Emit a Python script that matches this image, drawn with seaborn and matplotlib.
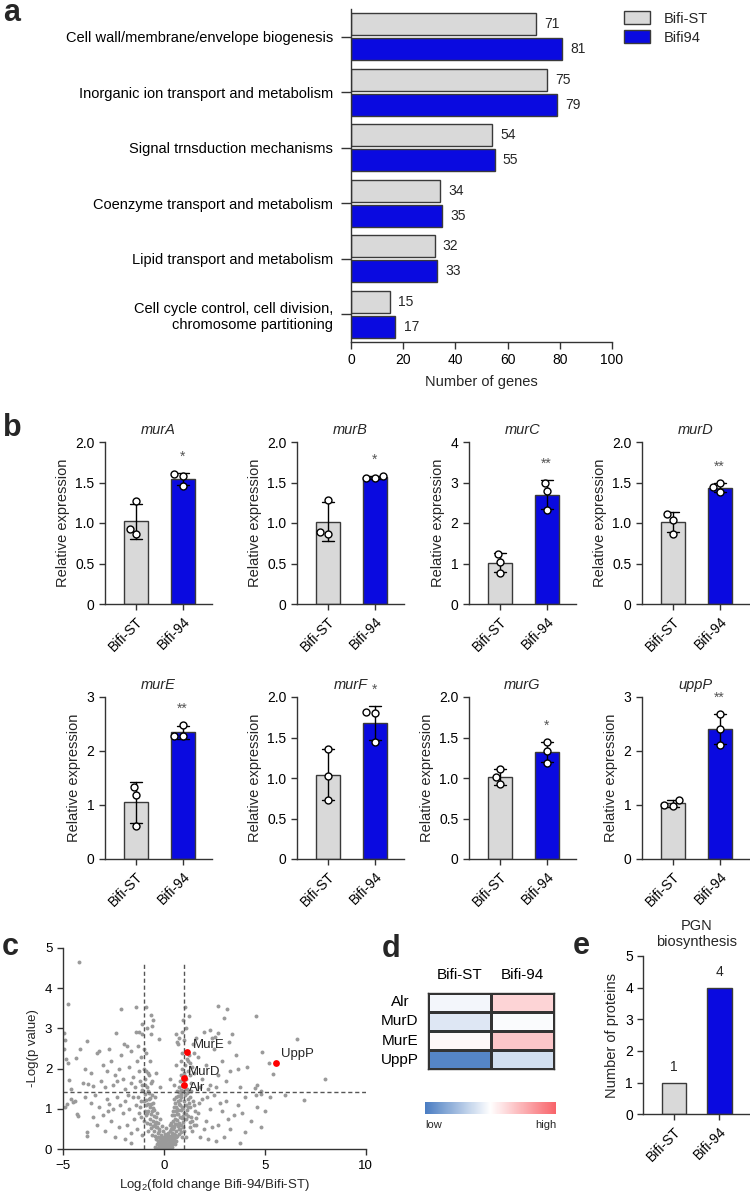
import numpy as np
import pandas as pd
import seaborn as sns
import matplotlib.pyplot as plt
from matplotlib.colors import LinearSegmentedColormap

# ---------------- data ----------------
# a: COG categories (number of genes)
cog_categories = ['Cell wall/membrane/envelope biogenesis',
                  'Inorganic ion transport and metabolism',
                  'Signal trnsduction mechanisms',
                  'Coenzyme transport and metabolism',
                  'Lipid transport and metabolism',
                  'Cell cycle control, cell division,\nchromosome partitioning']
cog_bifi_st = [71, 75, 54, 34, 32, 15]
cog_bifi94 = [81, 79, 55, 35, 33, 17]

# b: relative expression, three replicates per strain
qpcr_genes = ['murA', 'murB', 'murC', 'murD', 'murE', 'murF', 'murG', 'uppP']
qpcr_bifi_st = [[1.27, 0.93, 0.86], [1.29, 0.89, 0.87], [1.24, 1.04, 0.77],
                [1.11, 1.04, 0.87], [1.34, 1.19, 0.62], [1.36, 1.03, 0.73],
                [1.11, 1.01, 0.92], [1.10, 1.00, 0.99]]
qpcr_bifi94 = [[1.58, 1.60, 1.46], [1.58, 1.56, 1.55], [3.00, 2.80, 2.31],
               [1.44, 1.49, 1.38], [2.49, 2.27, 2.27], [1.81, 1.80, 1.44],
               [1.44, 1.33, 1.19], [2.68, 2.41, 2.12]]
qpcr_stars = ['*', '*', '**', '**', '**', '*', '*', '**']
qpcr_ymax = [2, 2, 4, 2, 3, 2, 2, 3]

# c: volcano plot (log2 fold change, -log p)
grey_left_high = [(-4.19, 4.64), (-4.75, 3.61), (-4.92, 2.88), (-4.88, 2.71), (-3.78, 2.69),
                  (-4.14, 2.48), (-4.34, 2.26), (-4.72, 2.13), (-4.67, 1.72), (-3.76, 1.61),
                  (-3.48, 1.58), (-2.13, 3.47), (-2.35, 2.88), (-1.96, 2.60), (-1.37, 3.52),
                  (-1.39, 2.92), (-3.3, 2.4), (-3.0, 2.1), (-2.8, 1.95), (-2.6, 2.2),
                  (-2.4, 1.85), (-2.2, 2.0), (-2.0, 1.75), (-1.8, 2.55), (-1.7, 2.05),
                  (-1.5, 1.8), (-1.3, 2.2), (-1.2, 1.95), (-1.1, 2.3), (-3.6, 1.9),
                  (-3.1, 1.7), (-2.9, 1.55), (-2.5, 1.6), (-2.3, 1.7), (-1.9, 1.5),
                  (-1.6, 1.65), (-1.4, 1.55), (-1.15, 1.7), (-2.7, 2.5), (-3.9, 2.0),
                  (-4.0, 1.65), (-2.1, 2.35), (-1.6, 2.45), (-1.25, 2.55), (-4.95, 2.5),
                  (-4.85, 2.25), (-4.6, 1.5), (-3.2, 2.45), (-1.24, 2.92), (-0.89, 3.53)]
grey_left_low = [(-4.47, 1.17), (-4.8, 1.13), (-4.3, 0.87), (-3.8, 0.43), (-3.5, 0.79),
                 (-2.7, 1.13), (-4.22, 0.83), (-3.78, 0.34), (-3.9, 1.3), (-3.4, 1.35),
                 (-3.2, 1.05), (-3.0, 0.85), (-2.8, 1.25), (-2.6, 0.7), (-2.5, 1.0),
                 (-2.3, 1.3), (-2.2, 0.55), (-2.0, 0.9), (-1.9, 1.2), (-1.8, 0.6),
                 (-1.7, 1.0), (-1.6, 0.4), (-1.5, 1.3), (-1.45, 0.75), (-1.35, 1.1),
                 (-1.3, 0.5), (-1.2, 0.9), (-1.1, 1.2), (-1.05, 0.35), (-2.9, 0.45),
                 (-3.3, 0.6), (-2.4, 0.3), (-1.9, 0.25), (-1.6, 0.15), (-3.6, 1.15),
                 (-2.75, 0.95), (-2.15, 1.1), (-1.75, 1.35), (-4.6, 1.25), (-4.9, 1.05),
                 (-4.4, 1.2)]
grey_mid_high = [(-0.63, 3.33), (-0.53, 3.21), (-0.6, 3.05), (-0.9, 2.4), (-0.7, 2.2),
                 (-0.8, 1.9), (-0.6, 1.7), (-0.95, 1.6), (-0.4, 1.9), (-0.24, 2.74),
                 (-0.65, 2.85), (-1.05, 2.85), (-0.85, 3.0), (-1.0, 2.5), (-1.05, 3.1),
                 (-1.05, 1.6), (-0.95, 1.75), (-0.85, 1.55), (-0.75, 1.85), (-0.65, 1.65),
                 (-1.0, 2.0), (-0.9, 1.95), (0.75, 1.55), (0.82, 1.7), (0.88, 1.85),
                 (0.92, 2.0), (0.95, 1.62), (1.0, 1.9), (1.05, 2.1), (1.1, 1.75),
                 (1.15, 2.25), (1.2, 1.95), (1.25, 2.35), (1.3, 2.15), (0.85, 2.2),
                 (0.9, 2.4), (1.35, 1.65), (1.4, 2.05), (1.1, 3.0), (1.25, 3.3),
                 (1.2, 2.2), (1.3, 1.85), (1.15, 1.5), (0.6, 2.1), (0.5, 1.6),
                 (0.7, 2.6), (1.0, 2.7), (0.3, 1.75), (-0.2, 1.55), (1.05, 3.54),
                 (0.95, 3.2), (0.9, 2.9), (0.6, 2.85), (0.75, 2.75), (0.65, 2.65)]
grey_right_high = [(2.71, 3.56), (3.12, 3.47), (3.0, 3.26), (2.71, 2.88), (3.25, 2.66),
                   (4.55, 3.31), (6.58, 2.74), (4.85, 2.41), (5.21, 2.13), (5.4, 1.87),
                   (7.99, 1.75), (4.52, 1.51), (3.66, 1.98), (1.5, 1.9), (1.7, 2.3),
                   (1.9, 1.75), (2.1, 2.1), (2.3, 1.6), (2.5, 2.5), (2.7, 1.85),
                   (2.9, 2.2), (3.1, 1.7), (3.3, 1.95), (3.6, 2.35), (3.8, 1.55),
                   (4.1, 2.05), (1.6, 2.75), (2.0, 2.9), (2.4, 2.75), (1.5, 2.4),
                   (2.2, 1.5), (2.6, 1.55), (3.4, 2.85), (1.8, 1.55), (2.3, 2.95),
                   (2.55, 2.78), (1.45, 2.6), (4.8, 1.45), (4.6, 1.6)]
grey_right_low = [(5.02, 0.95), (6.95, 1.22), (4.03, 0.44), (1.5, 1.1), (1.7, 0.9),
                  (1.9, 1.25), (2.1, 0.7), (2.3, 1.0), (2.5, 1.35), (2.7, 0.6),
                  (2.9, 0.95), (3.1, 1.2), (3.3, 0.5), (3.5, 0.85), (3.7, 1.1),
                  (4.0, 1.3), (4.3, 0.7), (1.6, 0.6), (1.8, 0.3), (2.0, 0.5),
                  (2.2, 0.25), (2.4, 0.55), (2.6, 0.2), (3.0, 0.3), (3.8, 0.15),
                  (1.55, 0.95), (1.75, 1.15), (2.15, 1.3), (2.8, 1.15), (3.2, 0.75),
                  (4.6, 1.05), (4.8, 0.55), (4.55, 1.35), (3.9, 0.9), (5.26, 1.29),
                  (5.99, 1.35), (4.8, 1.38)]
grey_core_low = [(0.0, 0.02), (0.05, 0.05), (-0.05, 0.08), (0.1, 0.03), (-0.1, 0.1),
                 (0.15, 0.12), (-0.15, 0.05), (0.2, 0.08), (-0.2, 0.15), (0.25, 0.15),
                 (0.02, 0.15), (-0.08, 0.18), (0.12, 0.2), (0.3, 0.1), (-0.25, 0.08),
                 (0.08, 0.1), (-0.02, 0.25), (0.18, 0.02), (-0.12, 0.02), (0.35, 0.22),
                 (-0.3, 0.2), (0.4, 0.05), (-0.35, 0.12), (0.45, 0.18), (0.22, 0.28),
                 (-0.18, 0.28), (0.5, 0.25), (-0.4, 0.25), (0.06, 0.01), (-0.06, 0.01),
                 (0.03, 0.3), (0.14, 0.06), (-0.22, 0.02), (0.28, 0.04), (-0.28, 0.3),
                 (0.38, 0.32), (0.55, 0.12), (-0.45, 0.05), (0.32, 0.16), (0.17, 0.32),
                 (-0.1, 0.3), (0.0, 0.2), (0.1, 0.25), (-0.15, 0.2), (0.26, 0.22),
                 (0.42, 0.12), (-0.32, 0.04), (0.6, 0.2), (0.48, 0.3), (-0.05, 0.14)]
grey_core_mid = [(-0.6, 0.35), (-0.5, 0.45), (-0.45, 0.32), (-0.38, 0.55), (-0.3, 0.4),
                 (-0.22, 0.5), (-0.15, 0.35), (-0.05, 0.45), (0.05, 0.38), (0.12, 0.52),
                 (0.2, 0.4), (0.28, 0.33), (0.35, 0.5), (0.42, 0.4), (0.5, 0.55),
                 (0.55, 0.35), (0.62, 0.45), (0.7, 0.58), (0.75, 0.38), (0.82, 0.5),
                 (0.88, 0.42), (0.95, 0.55), (-0.65, 0.52), (-0.55, 0.58), (0.6, 0.3),
                 (0.68, 0.32), (0.4, 0.58), (-0.1, 0.58), (0.3, 0.6), (1.0, 0.45),
                 (-1.0, 0.7), (-0.9, 0.85), (-0.85, 0.65), (-0.78, 0.95), (-0.7, 0.75),
                 (-0.62, 0.88), (-0.55, 0.7), (-0.48, 0.98), (-0.4, 0.8), (-0.3, 0.66),
                 (0.45, 0.7), (0.52, 0.85), (0.6, 0.95), (0.66, 0.72), (0.72, 0.88),
                 (0.78, 0.65), (0.84, 0.98), (0.9, 0.78), (0.96, 0.68), (1.02, 0.9),
                 (1.08, 0.75), (1.14, 0.98), (1.2, 0.82), (1.28, 0.68), (0.55, 0.62),
                 (0.8, 0.8), (0.68, 1.0), (-0.95, 0.95), (-0.68, 0.62), (-1.1, 0.8),
                 (1.3, 0.55), (1.4, 0.7), (1.5, 0.6), (1.6, 0.78), (1.35, 0.8),
                 (1.4, 0.45), (1.1, 0.3), (0.9, 0.3), (-0.8, 0.45), (-0.2, 0.75)]
grey_core_high = [(-1.15, 1.05), (-1.0, 1.2), (-0.95, 1.38), (-0.88, 1.1), (-0.8, 1.45),
                  (-0.75, 1.25), (-0.68, 1.05), (-0.6, 1.35), (-0.55, 1.15), (-1.05, 1.48),
                  (0.62, 1.05), (0.7, 1.2), (0.75, 1.42), (0.8, 1.1), (0.85, 1.3),
                  (0.9, 1.05), (0.95, 1.45), (1.0, 1.2), (1.05, 1.35), (1.1, 1.1),
                  (1.15, 1.4), (1.2, 1.25), (1.3, 1.05), (1.35, 1.45), (0.72, 1.32),
                  (0.88, 1.48), (0.98, 1.02), (1.08, 1.5), (-0.9, 1.22), (-0.72, 1.4),
                  (1.3, 1.3), (1.25, 1.15), (0.5, 1.25), (-0.45, 1.3), (1.45, 1.2),
                  (-1.25, 1.3)]
grey_arms = [(0.3, 0.45), (0.35, 0.65), (0.4, 0.85), (0.45, 0.95), (0.5, 1.05),
             (0.55, 1.15), (0.6, 1.3), (0.65, 1.45), (0.38, 0.28), (0.46, 0.5),
             (0.58, 0.75), (0.64, 0.88), (0.7, 0.98), (0.76, 1.12), (0.82, 1.22),
             (0.86, 1.38), (0.92, 1.58), (0.98, 1.72), (1.02, 1.6), (1.06, 1.82),
             (0.5, 0.38), (0.62, 0.62), (0.74, 0.5), (0.86, 0.6), (0.98, 0.82),
             (1.12, 0.88), (1.18, 1.05), (1.24, 1.45), (-0.25, 0.45), (-0.32, 0.55),
             (-0.4, 0.68), (-0.5, 0.82), (-0.58, 0.95), (-0.64, 1.12), (-0.7, 1.28),
             (-0.78, 1.12), (-0.84, 0.9), (-0.45, 0.62), (-0.35, 0.9), (-0.55, 1.02)]
pgn_proteins = ['MurE', 'MurD', 'Alr', 'UppP']
pgn_log2fc = [1.17, 0.99, 0.99, 5.54]
pgn_logp = [2.42, 1.77, 1.60, 2.13]
fc_cutoff = 1.0
p_cutoff = 1.42

# d: heatmap (relative abundance, scaled)
heat_proteins = ['Alr', 'MurD', 'MurE', 'UppP']
heat_bifi_st = [-0.07, -0.18, 0.05, -0.93]
heat_bifi94 = [0.28, -0.03, 0.36, -0.25]

# e: PGN biosynthesis proteins
strains = ['Bifi-ST', 'Bifi-94']
pgn_counts = [1, 4]

# ---------------- style ----------------
W, H = 750, 1195


def box(left, top, width, height):
    return [left / W, 1 - (top + height) / H, width / W, height / H]


sns.set_style('ticks')
plt.rcParams['font.family'] = ['Liberation Sans', 'DejaVu Sans']
plt.rcParams.update({'axes.edgecolor': '#333333', 'axes.linewidth': 1.0,
                     'xtick.color': '#333333', 'ytick.color': '#333333',
                     'xtick.labelcolor': 'black', 'ytick.labelcolor': 'black',
                     'xtick.major.width': 1.0, 'ytick.major.width': 1.0})

GREY = '#d9d9d9'
BLUE = '#0a0ae0'
EDGE = '#3a3a3a'

fig = plt.figure(figsize=(7.5, 11.95), dpi=100)

# ---------------- a ----------------
ax = fig.add_axes(box(351, 9, 261, 333))
df_a = pd.DataFrame({'category': cog_categories * 2,
                     'genes': cog_bifi_st + cog_bifi94,
                     'strain': ['Bifi-ST'] * 6 + ['Bifi94'] * 6})
sns.barplot(data=df_a, x='genes', y='category', hue='strain', orient='h',
            palette=[GREY, BLUE], saturation=1, width=0.9, gap=0.13,
            edgecolor=EDGE, linewidth=1, ax=ax)
for cont in ax.containers:
    ax.bar_label(cont, padding=6, fontsize=10)
ax.set_xlim(0, 100)
ax.set_xticks(range(0, 101, 20))
ax.set_xlabel('Number of genes', fontsize=10.5, labelpad=6)
ax.set_ylabel('')
ax.tick_params(axis='y', length=7, pad=6, labelsize=10.5)
ax.tick_params(axis='x', length=5, pad=3, labelsize=10)
for lab in ax.get_yticklabels():
    lab.set_multialignment('right')
ax.legend(loc='upper left', bbox_to_anchor=(624 / W, 1 - 11 / H),
          bbox_transform=fig.transFigure, frameon=False, fontsize=10.5,
          handlelength=1.8, handleheight=1.0, labelspacing=0.32,
          handletextpad=0.9, borderpad=0, borderaxespad=0)
sns.despine(ax=ax)

# ---------------- b ----------------
b_lefts = [105, 297, 469, 642]
b_tops = [442, 697]
for i, gene in enumerate(qpcr_genes):
    row, col = divmod(i, 4)
    ax = fig.add_axes(box(b_lefts[col], b_tops[row], 107, 162))
    df = pd.DataFrame({'strain': ['Bifi-ST'] * 3 + ['Bifi-94'] * 3,
                       'value': qpcr_bifi_st[i] + qpcr_bifi94[i]})
    sns.barplot(data=df, x='strain', y='value', hue='strain', order=strains,
                palette=[GREY, BLUE], saturation=1, errorbar='sd', capsize=0.26,
                width=0.52, edgecolor=EDGE, linewidth=1, legend=False,
                err_kws={'color': 'black', 'linewidth': 1}, ax=ax)
    sns.swarmplot(data=df, x='strain', y='value', order=strains, color='white',
                  edgecolor='black', linewidth=1, size=5, zorder=3, ax=ax)
    ymax = qpcr_ymax[i]
    vals = np.array(qpcr_bifi94[i])
    top = max(vals.max(), vals.mean() + vals.std(ddof=1))
    ax.text(1, top + 0.1 * ymax, qpcr_stars[i], ha='center', va='center',
            color='#555555', fontsize=10)
    ax.set_xlim(-0.67, 1.63)
    ax.set_ylim(0, ymax)
    if ymax == 2:
        ax.set_yticks([0, 0.5, 1.0, 1.5, 2.0], ['0', '0.5', '1.0', '1.5', '2.0'])
    else:
        ax.set_yticks(range(ymax + 1))
    ax.set_xticks([0, 1], strains, rotation=45, ha='right', rotation_mode='anchor')
    ax.tick_params(length=4, labelsize=10)
    ax.set_xlabel('')
    ax.set_ylabel('Relative expression', fontsize=10.5)
    ax.set_title(gene, style='italic', fontsize=10.5, pad=6)
    sns.despine(ax=ax)

# ---------------- c ----------------
ax = fig.add_axes(box(62.7, 947.7, 303, 201.6))
grey_pts = np.array(grey_left_high + grey_left_low + grey_mid_high + grey_right_high
                    + grey_right_low + grey_core_low + grey_core_mid + grey_core_high
                    + grey_arms)
sns.scatterplot(x=grey_pts[:, 0], y=grey_pts[:, 1], color='#9a9a9a', s=8,
                linewidth=0, ax=ax)
ax.vlines([-fc_cutoff, fc_cutoff], 0, 4.6, colors='#555555', linewidth=1,
          linestyles=(0, (3, 2)))
ax.hlines(p_cutoff, -5, 10, colors='#555555', linewidth=1, linestyles=(0, (3, 2)))
sns.scatterplot(x=pgn_log2fc, y=pgn_logp, color='#ff0000', s=24, linewidth=0,
                zorder=4, ax=ax)
label_offsets = {'MurE': (4, 5), 'MurD': (3, 4), 'Alr': (4, -2), 'UppP': (4, 7)}
for name, fc, lp in zip(pgn_proteins, pgn_log2fc, pgn_logp):
    ax.annotate(name, (fc, lp), xytext=label_offsets[name], textcoords='offset points',
                ha='left', va='center', fontsize=9.5)
ax.set_xlim(-5, 10)
ax.set_ylim(0, 5)
ax.set_xticks([-5, 0, 5, 10])
ax.set_yticks(range(6))
ax.tick_params(length=4, labelsize=9.5)
ax.set_xlabel(r'Log$_\mathregular{2}$(fold change Bifi-94/Bifi-ST)', fontsize=9.5)
ax.set_ylabel('-Log(p value)', fontsize=9.5)
sns.despine(ax=ax)

# ---------------- d ----------------
ax = fig.add_axes(box(427.7, 992.7, 126, 76.6))
cax = fig.add_axes(box(425, 1101.7, 130.7, 12.6))
heat = pd.DataFrame({'Bifi-ST': heat_bifi_st, 'Bifi-94': heat_bifi94},
                    index=heat_proteins)
cmap = LinearSegmentedColormap.from_list('lowhigh', ['#4a7dc2', '#ffffff', '#f8646a'])
sns.heatmap(heat, ax=ax, cmap=cmap, vmin=-1, vmax=1, linewidths=1,
            linecolor='#333333', cbar_ax=cax,
            cbar_kws={'orientation': 'horizontal', 'ticks': []})
for sp in ax.spines.values():
    sp.set_visible(True)
    sp.set_color('#333333')
ax.collections[0].colorbar.outline.set_edgecolor('#333333')
ax.xaxis.tick_top()
ax.tick_params(axis='x', length=0, pad=8, labelsize=11)
ax.tick_params(axis='y', length=0, pad=20, labelsize=11)
plt.setp(ax.get_yticklabels(), rotation=0, ha='center')
ax.set_xlabel('')
ax.set_ylabel('')
fig.text(425 / W, 1 - 1128 / H, 'low', fontsize=8, va='baseline', ha='left')
fig.text(556 / W, 1 - 1128 / H, 'high', fontsize=8, va='baseline', ha='right')

# ---------------- e ----------------
ax = fig.add_axes(box(643.3, 956, 106.7, 158.3))
sns.barplot(x=strains, y=pgn_counts, hue=strains, palette=[GREY, BLUE],
            saturation=1, width=0.53, edgecolor=EDGE, linewidth=1, legend=False,
            ax=ax)
for cont in ax.containers:
    ax.bar_label(cont, padding=6, fontsize=10)
ax.set_xlim(-0.67, 1.67)
ax.set_ylim(0, 5)
ax.set_yticks(range(6))
ax.set_xticks([0, 1], strains, rotation=45, ha='right', rotation_mode='anchor')
ax.tick_params(length=4, labelsize=10)
ax.set_ylabel('Number of proteins', fontsize=10.5)
ax.set_title('PGN\nbiosynthesis', fontsize=10.5, pad=7)
sns.despine(ax=ax)

# ---------------- panel letters ----------------
for letter, x, y in [('a', 3, 21), ('b', 3, 436), ('c', 2, 955), ('d', 382, 957),
                     ('e', 573, 954)]:
    fig.text(x / W, 1 - y / H, letter, fontsize=22, fontweight='bold',
             va='baseline', ha='left')

fig.savefig('out.png', dpi=100)
